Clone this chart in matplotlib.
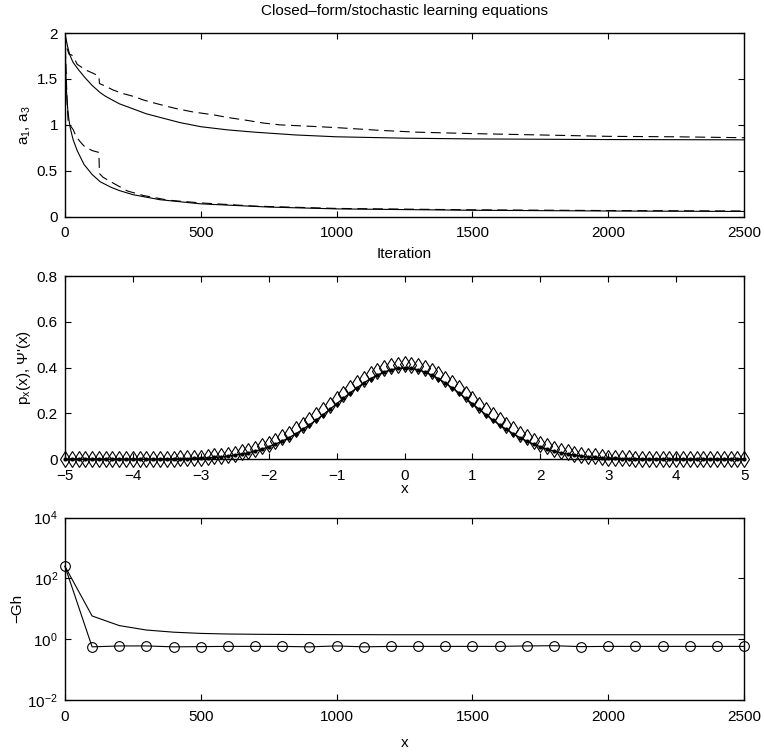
import matplotlib

matplotlib.use("Agg")

import matplotlib.pyplot as plt
import numpy as np

plt.rcParams["font.family"] = ["Liberation Sans", "DejaVu Sans"]
plt.rcParams["mathtext.fontset"] = "custom"
plt.rcParams["mathtext.rm"] = "Liberation Sans"
plt.rcParams["mathtext.it"] = "Liberation Sans:italic"
plt.rcParams["font.size"] = 11

# --- top panel: closed-form (solid) vs stochastic (dashed) learning curves
iter_a1_closed = [0, 5, 10, 18, 30, 50, 75, 100, 130, 150, 200, 300, 423, 500, 600, 700, 850, 1000, 1250, 1500, 2000, 2500]
a1_closed = [2.0, 1.92, 1.85, 1.76, 1.68, 1.6, 1.51, 1.43, 1.35, 1.31, 1.23, 1.12, 1.025, 0.98, 0.945, 0.92, 0.89, 0.87, 0.855, 0.847, 0.84, 0.837]

iter_a3_closed = [0, 3, 6, 10, 15, 20, 30, 45, 70, 100, 130, 170, 200, 250, 350, 500, 750, 1000, 1500, 2000, 2500]
a3_closed = [2.0, 1.6, 1.35, 1.18, 1.05, 0.96, 0.84, 0.72, 0.57, 0.46, 0.38, 0.32, 0.285, 0.24, 0.185, 0.14, 0.105, 0.085, 0.07, 0.062, 0.057]

iter_a1_stoch = [0, 4, 8, 15, 25, 35, 45, 60, 82, 105, 125, 127, 150, 177, 215, 252, 290, 326, 365, 405,
                 472, 545, 600, 668, 730, 791, 900, 1000, 1160, 1300, 1500, 1750, 2000, 2250, 2500]
a1_stoch = [2.0, 1.9, 1.83, 1.77, 1.76, 1.72, 1.66, 1.63, 1.59, 1.56, 1.53, 1.45, 1.42, 1.38, 1.34, 1.31, 1.27, 1.24, 1.21, 1.18,
            1.14, 1.11, 1.08, 1.05, 1.02, 1.0, 0.985, 0.97, 0.94, 0.92, 0.905, 0.89, 0.875, 0.87, 0.86]

iter_a3_stoch = [0, 4, 8, 12, 20, 30, 40, 55, 70, 100, 125, 127, 140, 175, 230, 290, 380, 500, 700, 1000, 1500, 2000, 2500]
a3_stoch = [2.0, 1.6, 1.25, 1.02, 0.99, 0.95, 0.88, 0.82, 0.77, 0.72, 0.70, 0.47, 0.43, 0.37, 0.28, 0.23, 0.18, 0.15, 0.115, 0.09, 0.075, 0.067, 0.062]

# --- middle panel: density p_x(x) (dots) and Psi'(x) (diamonds), x = -5..5 step 0.1
x_grid = np.round(np.arange(-50, 51) / 10.0, 1)
px_half = [0.399, 0.397, 0.391, 0.381, 0.368, 0.352, 0.333, 0.312, 0.290, 0.266,
           0.242, 0.218, 0.194, 0.171, 0.150, 0.130, 0.111, 0.094, 0.079, 0.066,
           0.054, 0.044, 0.035, 0.028, 0.022, 0.018, 0.014, 0.010, 0.008, 0.006,
           0.004, 0.003, 0.002, 0.002, 0.001, 0.001, 0.0, 0.0, 0.0, 0.0,
           0.0, 0.0, 0.0, 0.0, 0.0, 0.0, 0.0, 0.0, 0.0, 0.0, 0.0]
psi_half = [0.415, 0.413, 0.408, 0.398, 0.386, 0.371, 0.352, 0.332, 0.310, 0.287,
            0.263, 0.239, 0.216, 0.192, 0.170, 0.149, 0.130, 0.112, 0.095, 0.080,
            0.067, 0.056, 0.046, 0.037, 0.030, 0.024, 0.019, 0.015, 0.012, 0.009,
            0.007, 0.005, 0.004, 0.003, 0.002, 0.002, 0.001, 0.001, 0.0, 0.0,
            0.0, 0.0, 0.0, 0.0, 0.0, 0.0, 0.0, 0.0, 0.0, 0.0, 0.0]
px_vals = px_half[:0:-1] + px_half
psi_vals = psi_half[:0:-1] + psi_half

# --- bottom panel: -Gh every 100 iterations
gh_iter = [0, 100, 200, 300, 400, 500, 600, 700, 800, 900, 1000, 1100, 1200, 1300,
           1400, 1500, 1600, 1700, 1800, 1900, 2000, 2100, 2200, 2300, 2400, 2500]
gh_line = [250, 5.8, 2.8, 2.0, 1.7, 1.55, 1.48, 1.45, 1.43, 1.42, 1.41, 1.41, 1.40, 1.40,
           1.40, 1.40, 1.40, 1.40, 1.40, 1.40, 1.40, 1.40, 1.40, 1.40, 1.40, 1.40]
gh_circles = [250, 0.56, 0.60, 0.60, 0.56, 0.57, 0.58, 0.58, 0.58, 0.56, 0.60, 0.56, 0.58, 0.58,
              0.58, 0.58, 0.58, 0.60, 0.61, 0.57, 0.58, 0.58, 0.58, 0.58, 0.58, 0.58]


def _style(ax):
    # MATLAB-like boxed axes: inward ticks on all four sides
    ax.tick_params(direction="in", top=True, right=True, length=4.5, width=0.8, labelsize=11)
    ax.tick_params(axis="x", pad=7)
    ax.tick_params(axis="y", pad=5)
    ax.tick_params(which="minor", length=0)
    for sp in ax.spines.values():
        sp.set_linewidth(1.0)


fig = plt.figure(figsize=(7.64, 7.54), dpi=100)
ax1 = fig.add_axes([0.085, 0.7126, 0.889, 0.2436])
ax2 = fig.add_axes([0.085, 0.391, 0.889, 0.2427])
ax3 = fig.add_axes([0.085, 0.0716, 0.889, 0.242])

ax1.plot(iter_a1_closed, a1_closed, color="black", lw=0.8)
ax1.plot(iter_a3_closed, a3_closed, color="black", lw=0.8)
ax1.plot(iter_a1_stoch, a1_stoch, color="black", lw=0.8, dashes=(9, 5))
ax1.plot(iter_a3_stoch, a3_stoch, color="black", lw=0.8, dashes=(9, 5))
ax1.set_xlim(0, 2500)
ax1.set_ylim(0, 2)
ax1.set_xticks([0, 500, 1000, 1500, 2000, 2500])
ax1.set_yticks([0, 0.5, 1, 1.5, 2], ["0", "0.5", "1", "1.5", "2"])
ax1.set_xlabel("Iteration", labelpad=5)
ax1.set_ylabel(r"a$_1$, a$_3$", labelpad=3)
ax1.set_title("Closed\u2013form/stochastic learning equations", fontsize=11, pad=13)
_style(ax1)

ax2.plot(x_grid, psi_vals, color="black", ls="none", marker="d", ms=8, mfc="none", mew=0.8)
ax2.plot(x_grid, px_vals, color="black", lw=1.0, marker=".", ms=4)
ax2.set_xlim(-5, 5)
ax2.set_ylim(0, 0.8)
ax2.set_xticks(range(-5, 6))
ax2.set_yticks([0, 0.2, 0.4, 0.6, 0.8], ["0", "0.2", "0.4", "0.6", "0.8"])
ax2.set_xlabel("x", labelpad=-1)
ax2.set_ylabel(r"p$_\mathrm{x}$(x), Ψ'(x)", labelpad=3)
for ln in ax2.lines:
    ln.set_clip_on(False)
_style(ax2)

ax3.semilogy(gh_iter, gh_line, color="black", lw=0.8)
ax3.semilogy(gh_iter, gh_circles, color="black", lw=0.8, marker="o", ms=7, mfc="none", mew=0.8)
ax3.set_xlim(0, 2500)
ax3.set_ylim(1e-2, 1e4)
ax3.set_xticks([0, 500, 1000, 1500, 2000, 2500])
ax3.set_yticks([1e-2, 1e0, 1e2, 1e4], [r"$10^{-2}$", r"$10^{0}$", r"$10^{2}$", r"$10^{4}$"])
ax3.set_xlabel("x", labelpad=9)
ax3.set_ylabel("\u2212Gh", labelpad=2)
for ln in ax3.lines:
    ln.set_clip_on(False)
_style(ax3)

fig.savefig("out.png", dpi=100)
